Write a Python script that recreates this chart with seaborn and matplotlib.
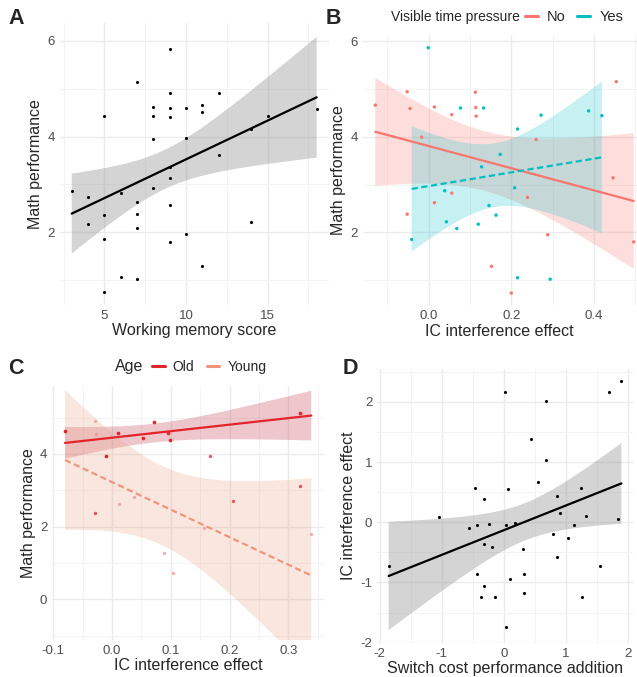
import numpy as np
import pandas as pd
import matplotlib
matplotlib.use("Agg")
import matplotlib.pyplot as plt
from matplotlib.lines import Line2D
from matplotlib.ticker import MultipleLocator, FormatStrFormatter
import seaborn as sns

# ---------------- data ----------------
# Panel A
wm_score = [3, 4, 4, 5, 5, 5, 5, 6, 6, 7, 7, 7, 7, 7, 8, 8, 8, 8, 9, 9, 9, 9, 9, 9, 9, 9,
            10, 10, 10, 11, 11, 11, 12, 12, 14, 14, 15, 18]
math_a = [2.87, 2.73, 2.17, 4.44, 2.36, 1.86, 0.75, 2.82, 1.06, 5.14, 2.62, 2.38, 2.08, 1.02,
          4.61, 4.43, 3.94, 2.93, 5.84, 4.92, 4.59, 4.41, 3.37, 3.14, 2.57, 1.80, 4.59, 3.97,
          1.96, 4.65, 4.52, 1.30, 4.91, 3.62, 4.15, 2.22, 4.44, 4.57]

# Panel B
ic_no = [-0.129, -0.052, -0.045, -0.052, -0.017, 0.014, 0.014, 0.056, 0.056, 0.113, 0.114,
         0.115, 0.152, 0.200, 0.239, 0.260, 0.288, 0.446, 0.454, 0.496]
math_no = [4.66, 4.94, 4.59, 2.38, 3.99, 4.62, 2.62, 4.46, 2.82, 4.93, 4.61, 4.43, 1.29, 0.73,
           2.73, 3.94, 1.95, 3.14, 5.15, 1.80]
ic_yes = [-0.001, -0.041, 0.039, 0.043, 0.068, 0.077, 0.120, 0.128, 0.133, 0.146, 0.163, 0.173,
          0.208, 0.215, 0.215, 0.272, 0.294, 0.387, 0.419]
math_yes = [5.86, 1.85, 2.87, 2.22, 2.08, 4.60, 2.17, 3.37, 4.60, 2.56, 2.36, 3.63, 2.93, 4.16,
            1.05, 4.45, 1.02, 4.54, 4.44]
pressure_levels = ["No", "Yes"]

# Panel C
ic_old = [-0.080, -0.010, 0.010, 0.053, 0.072, 0.095, 0.098, 0.319]
math_old = [4.64, 3.95, 4.59, 4.43, 4.89, 4.57, 4.39, 5.12]
ic_young = [-0.029, -0.028, 0.011, 0.038, 0.088, 0.104, 0.157, 0.339]
math_young = [4.92, 4.55, 2.61, 2.81, 1.28, 0.73, 1.95, 1.80]
ic_other = [-0.029, 0.166, 0.205, 0.319]
math_other = [2.37, 3.93, 2.71, 3.13]
age_levels = ["Old", "Young"]

# Panel D
switch_cost = [-1.855, -1.043, -0.559, -0.457, -0.430, -0.435, -0.371, -0.312, -0.317, -0.312,
               -0.231, -0.183, -0.140, 0.022, 0.032, 0.065, 0.043, 0.097, 0.188, 0.317, 0.333,
               0.333, 0.441, 0.559, 0.688, 0.683, 0.801, 0.855, 0.860, 0.903, 1.043, 1.129,
               1.242, 1.263, 1.323, 1.554, 1.704, 1.849, 1.898]
ic_d = [-0.719, 0.094, -0.100, 0.564, -0.044, -0.863, -1.234, 0.387, -0.365, -1.063, -0.028,
        -0.415, -1.240, 2.158, -0.044, 0.548, -1.743, -0.946, -0.006, -0.443, -0.852, -1.168,
        1.384, 0.664, 2.020, 1.040, -0.188, 0.443, -0.581, 0.149, -0.255, -0.039, 0.576,
        -1.234, 0.105, -0.725, 2.158, 0.061, 2.346]

# ---------------- style ----------------
sns.set_theme(style="white")
plt.rcParams['font.family'] = ['Liberation Sans', 'DejaVu Sans']
plt.rcParams['axes.unicode_minus'] = False

W, H = 637, 677
fig = plt.figure(figsize=(W / 100, H / 100), dpi=100)
fig.patch.set_facecolor('white')

TICK_COL = '#4D4D4D'
GRID_MAJ = '#EBEBEB'
GRID_MIN = '#F3F3F3'
RED_B, TEAL_B = '#F8766D', '#00BFC4'
OLD_C, YOUNG_C = '#E3242B', '#F2947C'
OLD_FILL, YOUNG_FILL = '#C8475A', '#E8A080'
LBL = 11.5


def add_ax(l, r, t, b):
    return fig.add_axes([l / W, 1 - b / H, (r - l) / W, (b - t) / H])


def style(ax, xmaj, xmin, ymaj, ymin, xfmt, yfmt):
    ax.set_facecolor('none')
    for s in ax.spines.values():
        s.set_visible(False)
    ax.xaxis.set_major_locator(MultipleLocator(xmaj))
    ax.xaxis.set_minor_locator(MultipleLocator(xmin))
    ax.yaxis.set_major_locator(MultipleLocator(ymaj))
    ax.yaxis.set_minor_locator(MultipleLocator(ymin))
    ax.xaxis.set_major_formatter(FormatStrFormatter(xfmt))
    ax.yaxis.set_major_formatter(FormatStrFormatter(yfmt))
    ax.grid(which='major', color=GRID_MAJ, lw=1.0)
    ax.grid(which='minor', color=GRID_MIN, lw=0.7)
    ax.set_axisbelow(True)
    ax.tick_params(which='both', length=0, labelsize=9.5, labelcolor=TICK_COL, pad=3.5)


def tcrit(df):
    try:
        from scipy import stats
        return float(stats.t.ppf(0.975, df))
    except Exception:
        table = {6: 2.447, 17: 2.110, 18: 2.101, 36: 2.028, 37: 2.026}
        return table.get(df, 2.0)


def ci_band(ax, x, y, color, alpha, x_lo=None, x_hi=None):
    """Analytic 95% confidence band of an OLS fit (as ggplot geom_smooth)."""
    x = np.asarray(x, float)
    y = np.asarray(y, float)
    n = len(x)
    slope, icpt = np.polyfit(x, y, 1)
    lo = x.min() if x_lo is None else x_lo
    hi = x.max() if x_hi is None else x_hi
    grid = np.linspace(lo, hi, 150)
    resid = y - (icpt + slope * x)
    s = np.sqrt(np.sum(resid ** 2) / (n - 2))
    sxx = np.sum((x - x.mean()) ** 2)
    se = s * np.sqrt(1 / n + (grid - x.mean()) ** 2 / sxx)
    fit = icpt + slope * grid
    t = tcrit(n - 2)
    ax.fill_between(grid, fit - t * se, fit + t * se, facecolor=color, alpha=alpha,
                    lw=0, edgecolor='none', zorder=1)


# ---------------- Panel A ----------------
axA = add_ax(59.5, 328.9, 23.3, 304.7)
ci_band(axA, wm_score, math_a, '#999999', 0.42)
sns.regplot(x=wm_score, y=math_a, ax=axA, scatter=False, ci=None, color='black',
            line_kws={'lw': 1.6, 'zorder': 3})
sns.scatterplot(x=wm_score, y=math_a, ax=axA, color='black', s=5, linewidth=0, zorder=4)
axA.set_xlim(2.25, 18.75)
axA.set_ylim(0.48, 6.37)
style(axA, 5, 2.5, 2, 1, '%d', '%d')
axA.set_xlabel('Working memory score', fontsize=LBL, labelpad=1)
axA.set_ylabel('Math performance', fontsize=LBL, labelpad=3)

# ---------------- Panel B ----------------
axB = add_ax(362.5, 637, 35.3, 305.5)
ci_band(axB, ic_no, math_no, RED_B, 0.24)
ci_band(axB, ic_yes, math_yes, TEAL_B, 0.22)
sns.regplot(x=ic_no, y=math_no, ax=axB, scatter=False, ci=None, color=RED_B,
            line_kws={'lw': 1.6, 'zorder': 3})
sns.regplot(x=ic_yes, y=math_yes, ax=axB, scatter=False, ci=None, color=TEAL_B,
            line_kws={'lw': 1.6, 'dashes': (2.8, 1.6), 'zorder': 3})
dfB = pd.DataFrame({'ic': ic_no + ic_yes, 'math': math_no + math_yes,
                    'pressure': [pressure_levels[0]] * len(ic_no) + [pressure_levels[1]] * len(ic_yes)})
sns.scatterplot(data=dfB, x='ic', y='math', hue='pressure', palette=[RED_B, TEAL_B],
                ax=axB, s=6, linewidth=0, zorder=4, legend=False)
axB.set_xlim(-0.160, 0.504)
axB.set_ylim(0.47, 6.12)
style(axB, 0.2, 0.1, 2, 1, '%.1f', '%d')
axB.set_xlabel('IC interference effect', fontsize=LBL, labelpad=1)
axB.set_ylabel('Math performance', fontsize=LBL, labelpad=3)

fig.text(391 / W, 1 - 17 / H, 'Visible time pressure', fontsize=10, va='center', ha='left')
hB = [Line2D([], [], color=RED_B, lw=2.2), Line2D([], [], color=TEAL_B, lw=2.2)]
fig.legend(hB, pressure_levels, ncol=2, loc='center left', bbox_to_anchor=(525 / W, 1 - 17 / H),
           frameon=False, handlelength=0.9, handletextpad=0.6, columnspacing=0.8,
           fontsize=10.5, borderpad=0, borderaxespad=0)

# ---------------- Panel C ----------------
axC = add_ax(52.1, 323.6, 386, 640)
all_c = ic_old + ic_young + ic_other
c_lo, c_hi = min(all_c), max(all_c)
axC.set_xlim(c_lo, c_hi)
ci_band(axC, ic_old, math_old, OLD_FILL, 0.3, c_lo, c_hi)
ci_band(axC, ic_young, math_young, YOUNG_FILL, 0.25, c_lo, c_hi)
sns.regplot(x=ic_old, y=math_old, ax=axC, scatter=False, ci=None, truncate=False, color=OLD_C,
            line_kws={'lw': 1.6, 'zorder': 3})
sns.regplot(x=ic_young, y=math_young, ax=axC, scatter=False, ci=None, truncate=False,
            color=YOUNG_C, line_kws={'lw': 1.6, 'dashes': (2.8, 1.6), 'zorder': 3})
sns.scatterplot(x=ic_old, y=math_old, ax=axC, color=OLD_C, s=7, linewidth=0, zorder=4)
sns.scatterplot(x=ic_other, y=math_other, ax=axC, color=OLD_C, alpha=0.75, s=6, linewidth=0,
                zorder=4)
sns.scatterplot(x=ic_young, y=math_young, ax=axC, color='#EE8F96', alpha=0.7, s=6, linewidth=0,
                zorder=4)
axC.set_xlim(-0.102, 0.360)
axC.set_ylim(-1.12, 5.87)
style(axC, 0.1, 0.05, 2, 1, '%.1f', '%d')
axC.set_xlabel('IC interference effect', fontsize=LBL, labelpad=1)
axC.set_ylabel('Math performance', fontsize=LBL, labelpad=3)

fig.text(115 / W, 1 - 367 / H, 'Age', fontsize=11.5, va='center', ha='left')
hC = [Line2D([], [], color=OLD_C, lw=2.2), Line2D([], [], color=YOUNG_C, lw=2.2)]
fig.legend(hC, age_levels, ncol=2, loc='center left', bbox_to_anchor=(152 / W, 1 - 367 / H),
           frameon=False, handlelength=0.9, handletextpad=0.6, columnspacing=0.9,
           fontsize=10, borderpad=0, borderaxespad=0)

# ---------------- Panel D ----------------
axD = add_ax(377.2, 633.3, 368.7, 642.7)
ci_band(axD, switch_cost, ic_d, '#999999', 0.42)
sns.regplot(x=switch_cost, y=ic_d, ax=axD, scatter=False, ci=None, color='black',
            line_kws={'lw': 1.6, 'zorder': 3})
sns.scatterplot(x=switch_cost, y=ic_d, ax=axD, color='black', s=5, linewidth=0, zorder=4)
axD.set_xlim(-2.04, 2.09)
axD.set_ylim(-2.0, 2.55)
style(axD, 1, 0.5, 1, 0.5, '%d', '%d')
axD.set_xlabel('Switch cost performance addition', fontsize=LBL, labelpad=1)
axD.set_ylabel('IC interference effect', fontsize=LBL, labelpad=3)

# ---------------- panel letters ----------------
for lab, (px, py) in {'A': (8, 8), 'B': (326, 8), 'C': (8, 358), 'D': (343, 358)}.items():
    fig.text(px / W, 1 - py / H, lab, fontsize=15.5, fontweight='bold', va='top', ha='left')

fig.savefig('out.png', dpi=100, facecolor='white')
